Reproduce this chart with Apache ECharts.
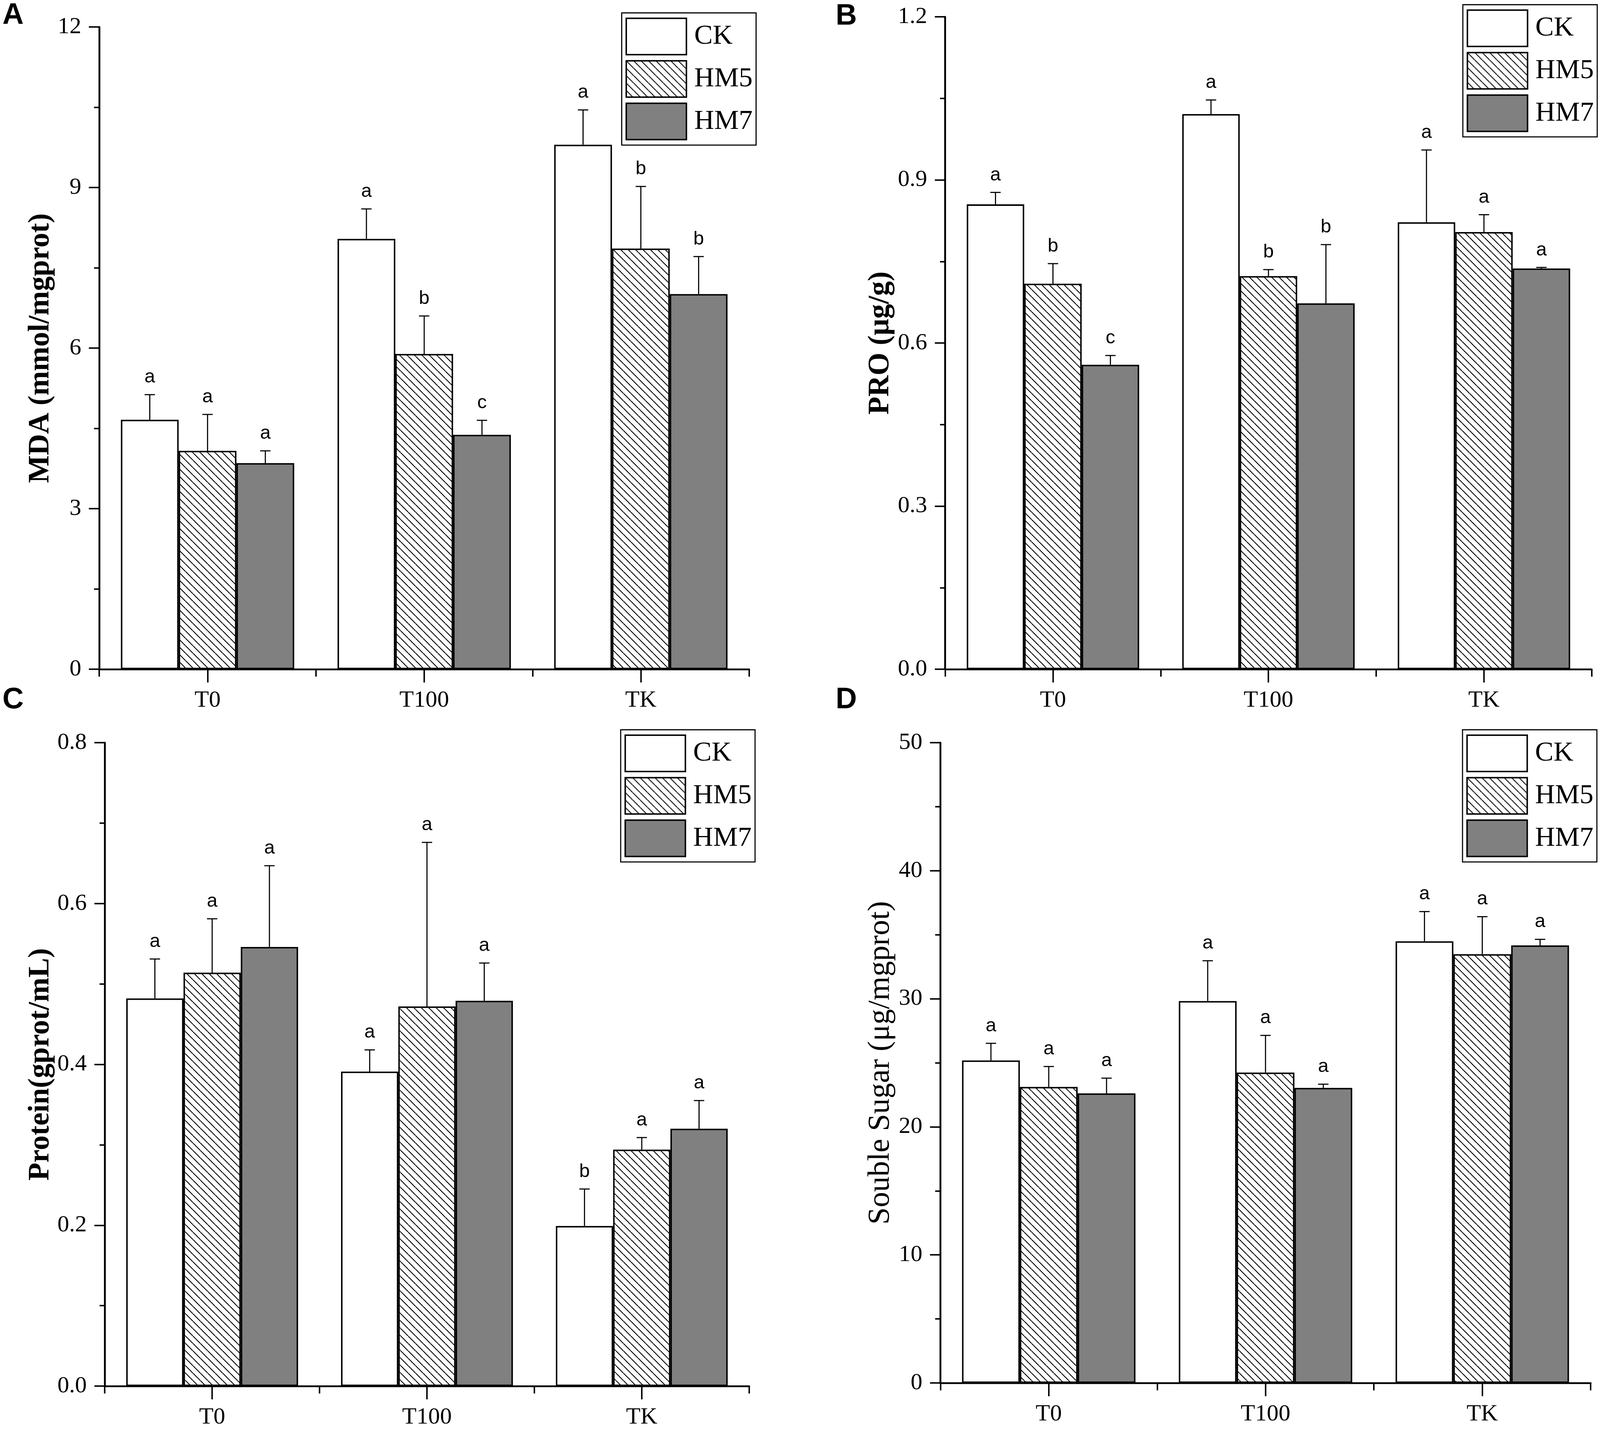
<!DOCTYPE html>
<html><head><meta charset="utf-8">
<script src="https://cdn.jsdelivr.net/npm/echarts@6/dist/echarts.min.js"></script>
<style>html,body{margin:0;padding:0;background:#fff;overflow:hidden}#c{position:absolute;left:0;top:0}</style>
</head><body><div id="c"></div>
<script>
// ---------- data ----------
const categories = ['T0', 'T100', 'TK'];
const seriesNames = ['CK', 'HM5', 'HM7'];

// A: MDA
const mdaCK = [4.66, 8.04, 9.80];
const mdaCKErr = [0.47, 0.56, 0.65];
const mdaHM5 = [4.08, 5.89, 7.86];
const mdaHM5Err = [0.68, 0.71, 1.16];
const mdaHM7 = [3.85, 4.38, 7.01];
const mdaHM7Err = [0.23, 0.27, 0.70];
const mdaSig = [['a', 'a', 'a'], ['a', 'b', 'b'], ['a', 'c', 'b']];

// B: PRO
const proCK = [0.855, 1.021, 0.822];
const proCKErr = [0.022, 0.026, 0.133];
const proHM5 = [0.709, 0.723, 0.804];
const proHM5Err = [0.037, 0.012, 0.032];
const proHM7 = [0.560, 0.673, 0.737];
const proHM7Err = [0.017, 0.108, 0.002];
const proSig = [['a', 'a', 'a'], ['b', 'b', 'a'], ['c', 'b', 'a']];

// C: Protein
const protCK = [0.482, 0.391, 0.199];
const protCKErr = [0.049, 0.027, 0.046];
const protHM5 = [0.514, 0.472, 0.294];
const protHM5Err = [0.067, 0.204, 0.015];
const protHM7 = [0.546, 0.479, 0.320];
const protHM7Err = [0.101, 0.047, 0.035];
const protSig = [['a', 'a', 'b'], ['a', 'a', 'a'], ['a', 'a', 'a']];

// D: Souble sugar
const sugCK = [25.18, 29.82, 34.49];
const sugCKErr = [1.34, 3.15, 2.32];
const sugHM5 = [23.12, 24.24, 33.48];
const sugHM5Err = [1.59, 2.90, 2.93];
const sugHM7 = [22.61, 23.04, 34.17];
const sugHM7Err = [1.19, 0.29, 0.47];
const sugSig = [['a', 'a', 'a'], ['a', 'a', 'a'], ['a', 'a', 'a']];

// y-axis ticks
const mdaAxis = { min: 0, max: 12, interval: 3 };
const proAxis = { min: 0, max: 1.2, interval: 0.3 };
const protAxis = { min: 0, max: 0.8, interval: 0.2 };
const sugAxis = { min: 0, max: 50, interval: 10 };

// ---------- layout scale (design is in 4628x3663 reference pixels) ----------
const W = window.innerWidth, H = window.innerHeight;
const SX = W / 4628, SY = H / 3663, SF = Math.sqrt(SX * SY);
const ux = v => v * SX, uy = v => v * SY, uf = v => v * SF;
const el = document.getElementById('c');
el.style.width = W + 'px';
el.style.height = H + 'px';

// ---------- styling ----------
function hatch() {
  const s = Math.max(4, Math.round(uf(20))), c = document.createElement('canvas');
  c.width = s; c.height = s;
  const g = c.getContext('2d');
  g.fillStyle = '#fff'; g.fillRect(0, 0, s, s);
  g.strokeStyle = '#000'; g.lineWidth = uf(2.4);
  for (let k = -1; k <= 1; k++) {
    g.beginPath(); g.moveTo(k * s, 0); g.lineTo(k * s + s, s); g.stroke();
  }
  return c;
}
const fills = ['#ffffff', { image: hatch(), repeat: 'repeat' }, '#808080'];
const SERIF = '"Liberation Serif", "Times New Roman", serif';
const SANS = '"Liberation Sans", Arial, sans-serif';

const panels = [
  { letter: 'A', lpos: [7, 3], grid: { left: 287, top: 69, width: 1880, height: 1644 },
    axis: mdaAxis, dec: 0, name: 'MDA (mmol/mgprot)', nameGap: 126, bold: true,
    vals: [mdaCK, mdaHM5, mdaHM7], errs: [mdaCKErr, mdaHM5Err, mdaHM7Err], sig: mdaSig,
    legend: { right: 2187, top: 33 } },
  { letter: 'B', lpos: [2417, 5], grid: { left: 2734, top: 43, width: 1870, height: 1670 },
    axis: proAxis, dec: 1, name: 'PRO (μg/g)', nameGap: 144, bold: true,
    vals: [proCK, proHM5, proHM7], errs: [proCKErr, proHM5Err, proHM7Err], sig: proSig,
    legend: { right: 4620, top: 12 } },
  { letter: 'C', lpos: [7, 1755], grid: { left: 303, top: 1901, width: 1864, height: 1647 },
    axis: protAxis, dec: 1, name: 'Protein(gprot/mL)', nameGap: 142, bold: true,
    vals: [protCK, protHM5, protHM7], errs: [protCKErr, protHM5Err, protHM7Err], sig: protSig,
    legend: { right: 2184, top: 1868 } },
  { letter: 'D', lpos: [2417, 1755], grid: { left: 2720, top: 1901, width: 1881, height: 1639 },
    axis: sugAxis, dec: 0, name: 'Souble Sugar (μg/mgprot)', nameGap: 128, bold: false,
    vals: [sugCK, sugHM5, sugHM7], errs: [sugCKErr, sugHM5Err, sugHM7Err], sig: sugSig,
    legend: { right: 4619, top: 1868 } }
];

const option = {
  animation: false,
  backgroundColor: '#fff',
  title: [], grid: [], xAxis: [], yAxis: [], series: [], legend: []
};

panels.forEach((p, i) => {
  option.title.push({ text: p.letter, left: ux(p.lpos[0]), top: uy(p.lpos[1]), padding: 0,
    textStyle: { fontFamily: SANS, fontWeight: 'bold', fontSize: uf(80), color: '#000' } });
  option.grid.push({ left: ux(p.grid.left), top: uy(p.grid.top), width: ux(p.grid.width), height: uy(p.grid.height), containLabel: false });
  // boundary ticks + axis line
  option.xAxis.push({ type: 'category', data: categories, gridIndex: i, position: 'bottom',
    boundaryGap: true,
    axisLine: { show: true, onZero: false, lineStyle: { color: '#000', width: uf(5) } },
    axisTick: { show: true, inside: false, length: uy(19), lineStyle: { color: '#000', width: uf(4) } },
    axisLabel: { show: false }, splitLine: { show: false } });
  // centre ticks + labels
  option.xAxis.push({ type: 'category', data: categories, gridIndex: i, position: 'bottom',
    boundaryGap: true,
    axisLine: { show: false, onZero: false },
    axisTick: { show: true, alignWithLabel: true, length: uy(34), lineStyle: { color: '#000', width: uf(4) } },
    axisLabel: { show: true, margin: uy(50), fontSize: uf(64), fontFamily: SERIF, color: '#000' },
    splitLine: { show: false } });
  option.yAxis.push({ type: 'value', gridIndex: i, min: p.axis.min, max: p.axis.max, interval: p.axis.interval,
    name: p.name, nameLocation: 'middle', nameGap: ux(p.nameGap),
    nameTextStyle: { fontFamily: SERIF, fontSize: uf(p.bold ? 80 : 84), fontWeight: p.bold ? 'bold' : 'normal', color: '#000' },
    axisLine: { show: true, lineStyle: { color: '#000', width: uf(5) } },
    axisTick: { show: true, length: ux(30), lineStyle: { color: '#000', width: uf(4) } },
    minorTick: { show: true, splitNumber: 2, length: ux(15), lineStyle: { color: '#000', width: uf(4) } },
    splitLine: { show: false }, minorSplitLine: { show: false },
    axisLabel: { margin: ux(52), fontSize: uf(64), fontFamily: SERIF, color: '#000',
      formatter: v => Number(v).toFixed(p.dec) } });

  seriesNames.forEach((nm, k) => {
    option.series.push({ type: 'bar', name: nm, xAxisIndex: 2 * i, yAxisIndex: i,
      data: p.vals[k], barGap: '0%', barCategoryGap: '20%',
      itemStyle: { color: fills[k], borderColor: '#000', borderWidth: uf(4) }, z: 2 });
  });

  const errData = [];
  const letters = [];
  for (let k = 0; k < 3; k++) {
    for (let c = 0; c < categories.length; c++) {
      errData.push([c, k, p.vals[k][c], p.errs[k][c]]);
      letters.push(p.sig[k][c]);
    }
  }
  option.series.push({ type: 'custom', name: 'err' + p.letter, xAxisIndex: 2 * i, yAxisIndex: i,
    data: errData, z: 5, silent: true,
    renderItem: function (params, api) {
      const ci = api.value(0), si = api.value(1), v = api.value(2), e = api.value(3);
      const base = api.coord([ci, v]);
      const top = api.coord([ci, v + e]);
      const bw = api.size([1, 0])[0] * 0.8 / 3;
      const x = base[0] + (si - 1) * bw;
      return { type: 'group', children: [
        { type: 'line', shape: { x1: x, y1: base[1], x2: x, y2: top[1] }, style: { stroke: '#000', lineWidth: uf(3) } },
        { type: 'line', shape: { x1: x - ux(15), y1: top[1], x2: x + ux(15), y2: top[1] }, style: { stroke: '#000', lineWidth: uf(3) } },
        { type: 'text', style: { text: letters[params.dataIndex], x: x, y: top[1] - uy(20),
          align: 'center', verticalAlign: 'bottom', fontSize: uf(52), fontFamily: SANS, fill: '#000' } }
      ] };
    } });

  option.legend.push({ orient: 'vertical', right: W - ux(p.legend.right), top: uy(p.legend.top),
    data: seriesNames, icon: 'rect', itemWidth: ux(174), itemHeight: uy(93), itemGap: uy(12),
    selectedMode: false, borderColor: '#000', borderWidth: uf(3),
    padding: [uy(12), ux(10), uy(12), ux(11)],
    itemStyle: { borderColor: '#000', borderWidth: uf(4) },
    textStyle: { fontSize: ux(80), fontFamily: SERIF, color: '#000', padding: [0, 0, 0, ux(17)] } });
});

const chart = echarts.init(el, null, { renderer: 'canvas', width: W, height: H });
chart.setOption(option);
</script>
</body></html>
